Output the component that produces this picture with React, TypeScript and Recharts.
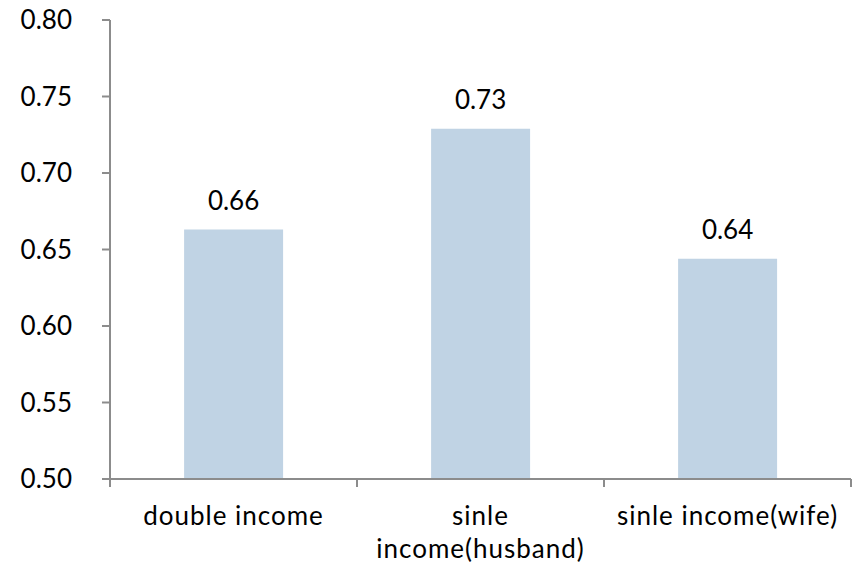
import React from 'react';
import { BarChart, Bar, XAxis, YAxis, LabelList } from 'recharts';

const categories = ['double income', 'sinle income(husband)', 'sinle income(wife)'];
const ratios = [0.663, 0.729, 0.644];
const yTicks = [0.5, 0.55, 0.6, 0.65, 0.7, 0.75, 0.8];

const data = categories.map((name, i) => ({ name, ratio: ratios[i] }));

const FONT = 'Lato, "Open Sans", sans-serif';
const AXIS = '#8c8c8c';
const LABEL_SIZE = 26;
const LETTER = 1;
const MAX_LINE = 232;

let ctx: CanvasRenderingContext2D | null = null;
function measure(s: string) {
  if (!ctx) ctx = document.createElement('canvas').getContext('2d');
  if (!ctx) return s.length * LABEL_SIZE * 0.55;
  ctx.font = `${LABEL_SIZE}px ${FONT}`;
  return ctx.measureText(s).width + s.length * LETTER;
}

function wrap(label: string) {
  const lines: string[] = [];
  let cur = '';
  label.split(' ').forEach((w) => {
    const next = cur ? cur + ' ' + w : w;
    if (cur && measure(next) > MAX_LINE) {
      lines.push(cur);
      cur = w;
    } else cur = next;
  });
  if (cur) lines.push(cur);
  return lines;
}

// category tick: wrapped label plus boundary tick marks between categories
function CategoryTick(props: any) {
  const { x, y, payload, index, width, visibleTicksCount } = props;
  const half = width / visibleTicksCount / 2;
  const lineTop = y - 28;
  const lines = wrap(String(payload.value));
  return (
    <g>
      <line x1={x - half} x2={x - half} y1={lineTop} y2={lineTop + 8} stroke={AXIS} strokeWidth={2} />
      {index === visibleTicksCount - 1 && (
        <line x1={x + half} x2={x + half} y1={lineTop} y2={lineTop + 8} stroke={AXIS} strokeWidth={2} />
      )}
      <text
        x={x}
        y={y + 18}
        textAnchor="middle"
        fontSize={LABEL_SIZE}
        fontFamily={FONT}
        letterSpacing={LETTER}
        fill="#000"
      >
        {lines.map((l, i) => (
          <tspan key={i} x={x} dy={i === 0 ? 0 : 33}>
            {l}
          </tspan>
        ))}
      </text>
    </g>
  );
}

export default function App() {
  return (
    <div style={{ position: 'absolute', left: 0, top: 0, width: 854, height: 565, background: '#fff' }}>
      <BarChart
        width={854}
        height={565}
        data={data}
        margin={{ top: 20, right: 3, left: 0, bottom: 0 }}
        barCategoryGap="30%"
      >
        <XAxis
          dataKey="name"
          height={86}
          interval={0}
          tickLine={false}
          tickSize={8}
          tickMargin={20}
          axisLine={{ stroke: AXIS, strokeWidth: 2 }}
          tick={<CategoryTick />}
        />
        <YAxis
          width={110}
          domain={[0.5, 0.8]}
          ticks={yTicks}
          allowDataOverflow
          tickFormatter={(v: number) => v.toFixed(2)}
          tickSize={8}
          tickMargin={30}
          axisLine={{ stroke: AXIS, strokeWidth: 2 }}
          tickLine={{ stroke: AXIS, strokeWidth: 2 }}
          tick={{ fill: '#000', fontSize: 26, fontFamily: FONT }}
        />
        <Bar dataKey="ratio" fill="#c0d3e4" isAnimationActive={false}>
          <LabelList
            dataKey="ratio"
            position="top"
            offset={20}
            formatter={(v: any) => Number(v).toFixed(2)}
            style={{ fill: '#000', fontSize: 26, fontFamily: FONT }}
          />
        </Bar>
      </BarChart>
    </div>
  );
}
